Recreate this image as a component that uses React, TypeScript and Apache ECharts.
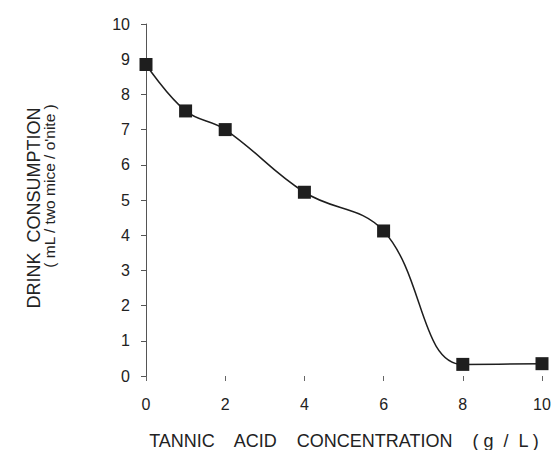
import React, { useEffect, useRef } from "react";
import * as echarts from "echarts";

const concentrations = [0, 1, 2, 4, 6, 8, 10];
const consumption = [8.85, 7.53, 7.0, 5.22, 4.12, 0.33, 0.35];
const xName = "TANNIC    ACID    CONCENTRATION    ( g  /  L )";
const yNameLine1 = "DRINK  CONSUMPTION";
const yNameLine2 = "( mL / two mice / o'nite )";

export default function App() {
  const ref = useRef<HTMLDivElement>(null);
  useEffect(() => {
    if (!ref.current) return;
    document.body.style.margin = "0";
    const chart = echarts.init(ref.current, null, { renderer: "svg" });
    const font = "'Liberation Sans', Arial, sans-serif";
    chart.setOption({
      animation: false,
      backgroundColor: "#ffffff",
      grid: {
        left: 146,
        right: 10,
        top: 24,
        bottom: 74,
        containLabel: false,
        outerBoundsMode: "none",
      },
      xAxis: {
        type: "value",
        min: 0,
        max: 10,
        interval: 2,
        axisLine: { show: false },
        axisTick: { show: true, length: 5, lineStyle: { color: "#666" } },
        splitLine: { show: false },
        axisLabel: { color: "#222", fontSize: 16, fontFamily: font, margin: 20 },
        name: xName,
        nameLocation: "middle",
        nameGap: 56,
        nameTextStyle: { color: "#222", fontSize: 18, fontFamily: font },
      },
      yAxis: {
        type: "value",
        min: 0,
        max: 10,
        interval: 1,
        axisLine: { show: true, lineStyle: { color: "#555", width: 1 } },
        axisTick: { show: true, length: 5, lineStyle: { color: "#555" } },
        splitLine: { show: false },
        axisLabel: { color: "#222", fontSize: 16, fontFamily: font, margin: 16 },
      },
      graphic: [
        {
          type: "text",
          x: 34,
          y: 208,
          rotation: Math.PI / 2,
          style: {
            text: yNameLine1,
            fill: "#222",
            font: `18px ${font}`,
            align: "center",
            verticalAlign: "middle",
          },
        },
        {
          type: "text",
          x: 49,
          y: 186,
          rotation: Math.PI / 2,
          style: {
            text: yNameLine2,
            fill: "#222",
            font: `15.5px ${font}`,
            align: "center",
            verticalAlign: "middle",
          },
        },
      ],
      series: [
        {
          type: "line",
          data: concentrations.map((x, i) => [x, consumption[i]]),
          smooth: 0.4,
          symbol: "rect",
          symbolSize: 13,
          itemStyle: { color: "#1e1e1e" },
          lineStyle: { color: "#1e1e1e", width: 1.5 },
        },
      ],
    });
    return () => chart.dispose();
  }, []);
  return <div ref={ref} style={{ width: 552, height: 450 }} />;
}
